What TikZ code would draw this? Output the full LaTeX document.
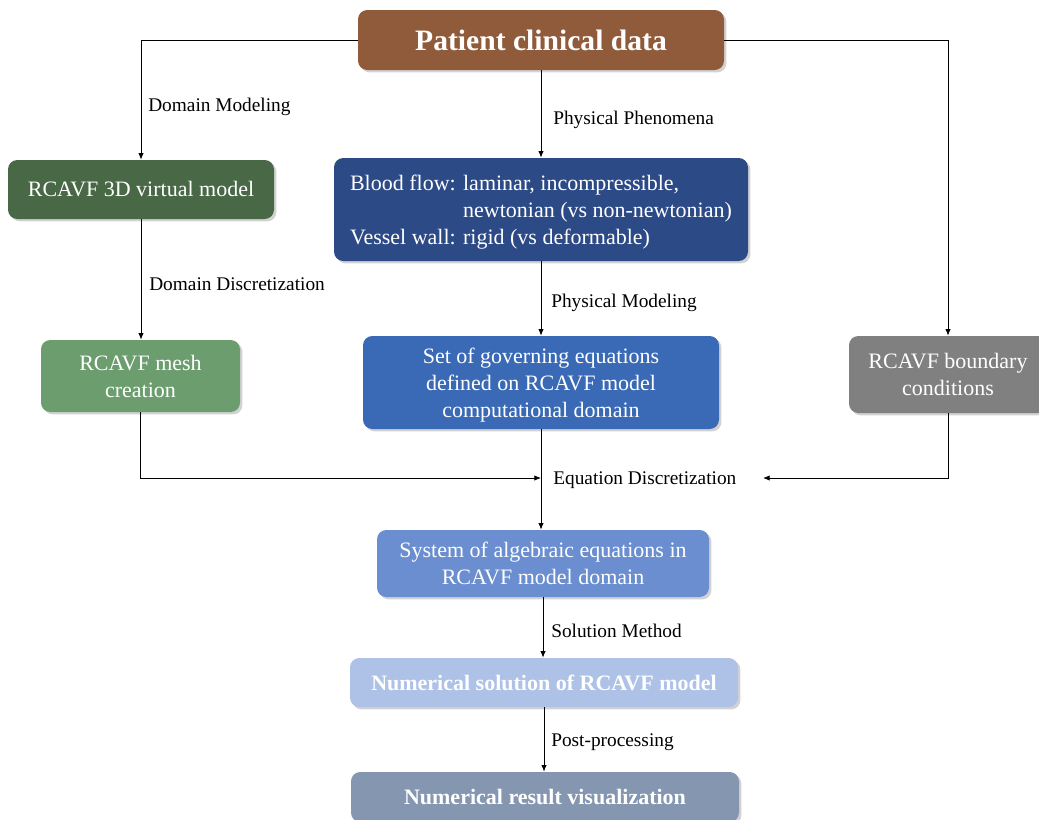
\documentclass[tikz,border=0pt]{standalone}
\usepackage{fontspec}
\setmainfont{Liberation Serif}
\usetikzlibrary{arrows.meta,shadows}
\definecolor{cbrown}{RGB}{143,91,59}
\definecolor{cdgreen}{RGB}{72,104,70}
\definecolor{cdblue}{RGB}{44,74,134}
\definecolor{cgreen}{RGB}{108,157,110}
\definecolor{cblue}{RGB}{58,106,182}
\definecolor{cgrey}{RGB}{128,128,128}
\definecolor{cmblue}{RGB}{106,142,207}
\definecolor{clblue}{RGB}{174,193,230}
\definecolor{cslate}{RGB}{132,150,176}
\newcommand{\lowr}[1]{\raisebox{-2pt}[\height][\depth]{#1}}
\tikzset{
  box/.style={rounded corners=7pt, inner sep=0pt, text=white, align=center,
    drop shadow={shadow xshift=1.8pt, shadow yshift=-1.8pt, opacity=0.35},
    font=\fontsize{16.5}{20.2}\selectfont},
  lab/.style={anchor=west, inner sep=0pt, font=\fontsize{14.5}{17}\selectfont},
  arr/.style={line width=0.6pt, -{Latex[length=5pt,width=4pt]}},
  ln/.style={line width=0.6pt}
}
\begin{document}
\begin{tikzpicture}[x=0.75pt,y=-0.75pt]
\clip (0,0) rectangle (1039,819);
\fill[white] (0,0) rectangle (1039,819);
\node[box, fill=cbrown, minimum width=274.5pt, minimum height=45pt, font=\fontsize{22.2}{26}\selectfont\bfseries] (pat) at (541,40) {Patient clinical data};
\node[box, fill=cdgreen, minimum width=199.5pt, minimum height=44.25pt] (m3d) at (141,189.5) {RCAVF 3D virtual model};
\node[box, fill=cdblue, minimum width=310.5pt, minimum height=77.25pt] (blood) at (541,209.5) {\lowr{\begin{tabular}{@{}l@{ }l@{}}Blood flow: & laminar, incompressible,\\ & newtonian (vs non-newtonian)\\ \multicolumn{2}{@{}l@{}}{Vessel wall: rigid (vs deformable)}\end{tabular}}};
\node[box, fill=cgreen, minimum width=149.25pt, minimum height=54pt] (mesh) at (140.5,376) {RCAVF mesh\\creation};
\node[box, fill=cblue, minimum width=267pt, minimum height=69.75pt] (gov) at (541,382.5) {\lowr{\begin{tabular}{@{}c@{}}Set of governing equations\\defined on RCAVF model\\computational domain\end{tabular}}};
\node[box, fill=cgrey, minimum width=148.5pt, minimum height=57.75pt] (bnd) at (948,374.5) {RCAVF boundary\\conditions};
\node[box, fill=cmblue, minimum width=249pt, minimum height=50.25pt] (sys) at (543,563.5) {System of algebraic equations in\\RCAVF model domain};
\node[box, fill=clblue, minimum width=291pt, minimum height=36.75pt, font=\fontsize{16.5}{19.8}\selectfont\bfseries] (num) at (544,682.5) {Numerical solution of RCAVF model};
\node[box, fill=cslate, minimum width=291pt, minimum height=37.5pt, font=\fontsize{16.5}{19.8}\selectfont\bfseries] (res) at (545,797) {Numerical result visualization};

\node[lab] (l1) at (148,106.5) {Domain Modeling};
\node[lab] (l2) at (553,119.5) {Physical Phenomena};
\node[lab] (l3) at (149,284.5) {Domain Discretization};
\node[lab] (l4) at (551,302.5) {Physical Modeling};
\node[lab] (l5) at (553,480.5) {Equation Discretization};
\node[lab] (l6) at (551,630.5) {Solution Method};
\node[lab] (l7) at (551,742.5) {Post-processing};

\coordinate (eqL) at (541,478);
\coordinate (eqR) at (763,478);

\draw[arr] (pat.west) -| (m3d.north);
\draw[arr] (pat.east) -| (bnd.north);
\draw[arr] (pat.south) -- (blood.north);
\draw[arr] (m3d.south) -- (m3d.south |- mesh.north);
\draw[arr] (blood.south) -- (gov.north);
\draw[arr] (mesh.south) |- (eqL);
\draw[arr] (bnd.south) |- (eqR);
\draw[arr] (gov.south) -- (gov.south |- sys.north);
\draw[arr] (sys.south) -- (sys.south |- num.north);
\draw[arr] (num.south) -- (num.south |- res.north);
\end{tikzpicture}
\end{document}
